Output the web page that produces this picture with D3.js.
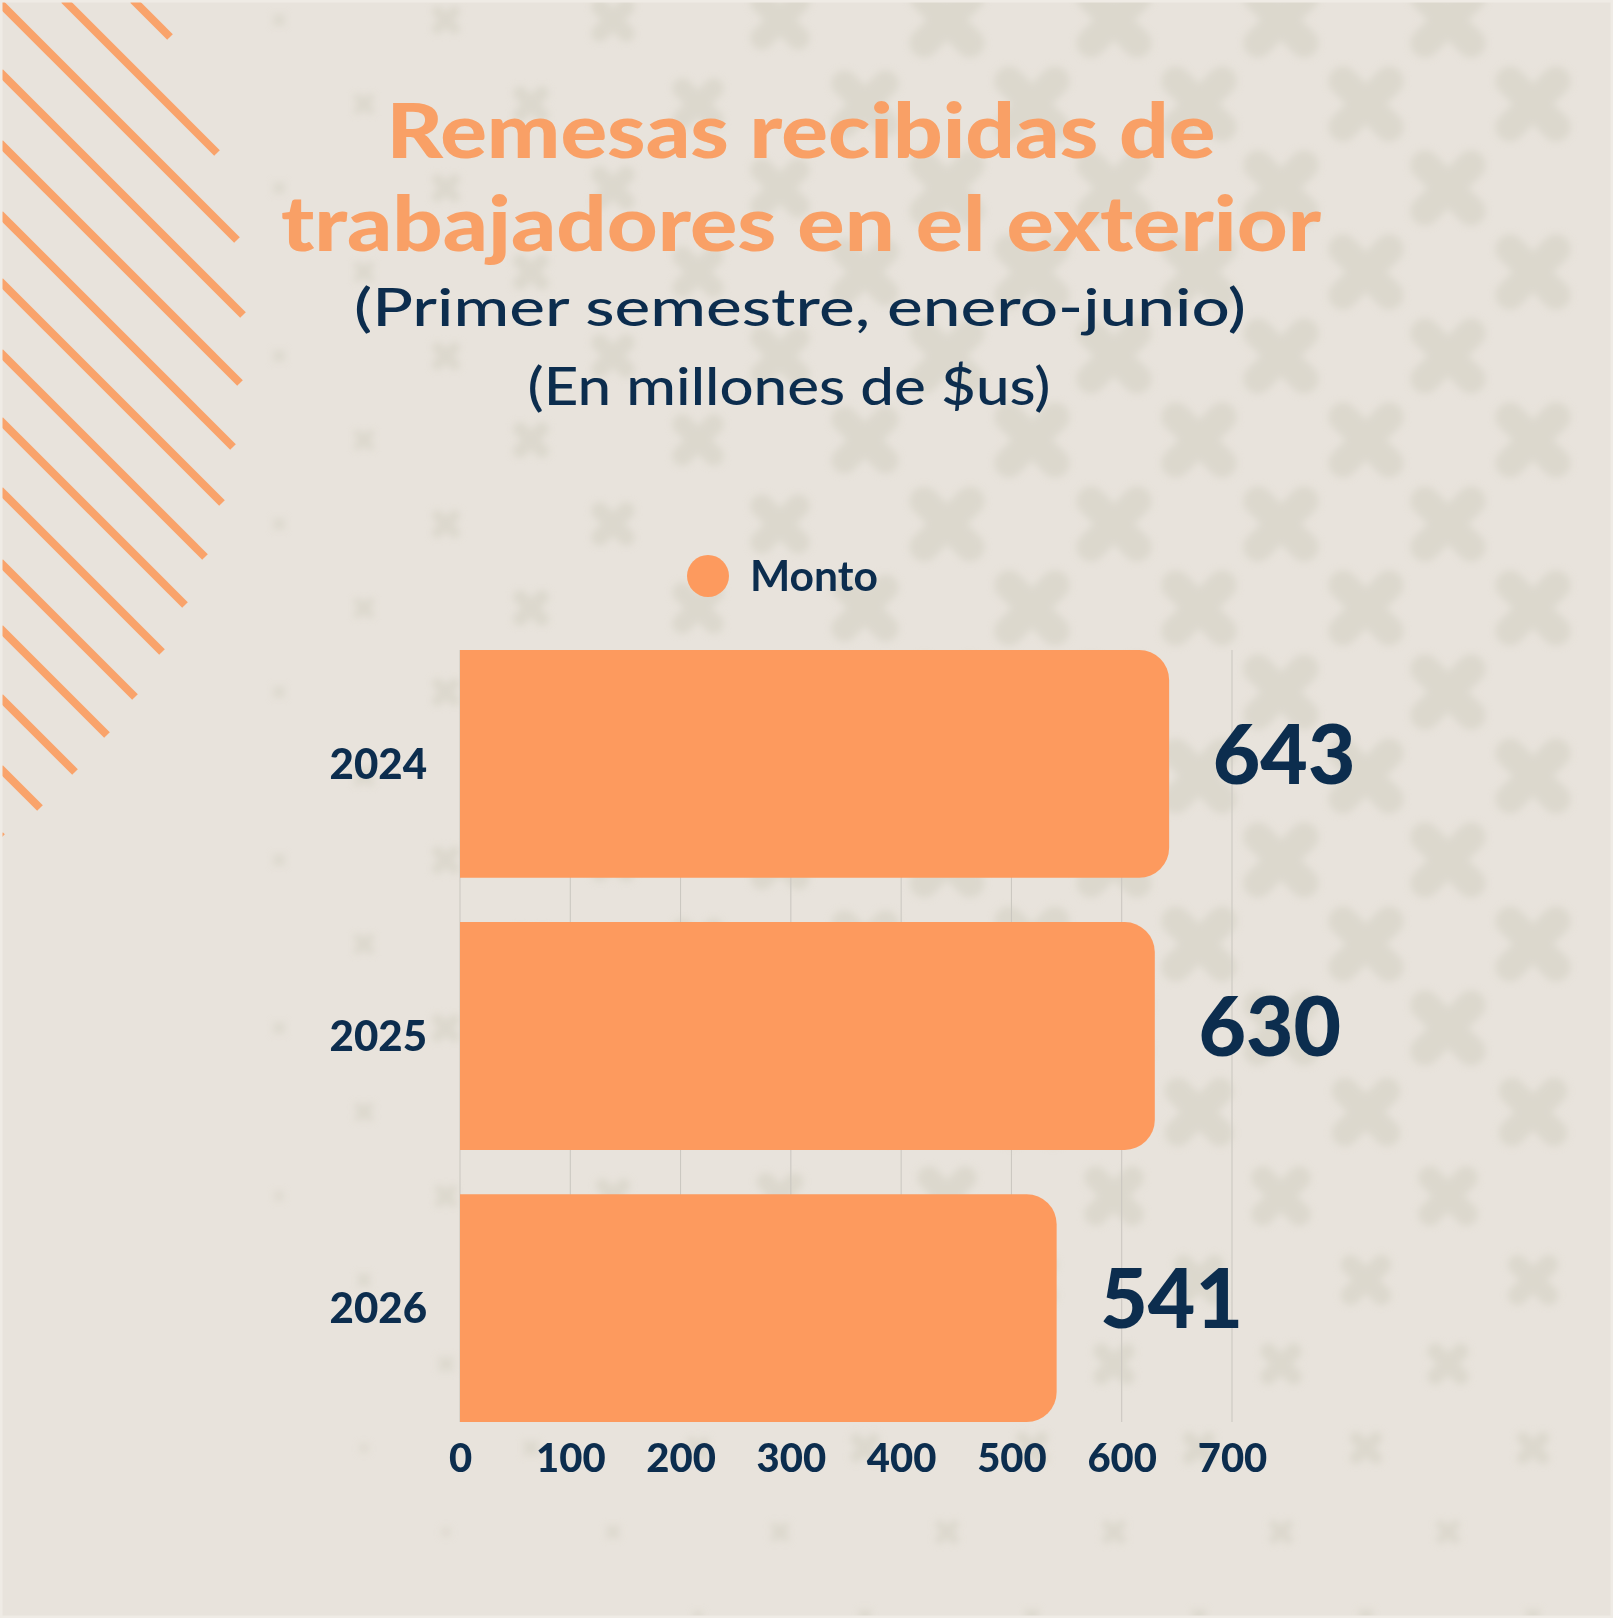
<!DOCTYPE html>
<html>
<head>
<meta charset="utf-8">
<script src="https://cdn.jsdelivr.net/npm/d3@7"></script>
<style>
  body { margin: 0; background: #e8e3dc; }
  svg { display: block; }
</style>
</head>
<body>
<div id="chart"></div>
<script>
// chart data
const years = ["2024", "2025", "2026"];
const montos = [643, 630, 541];
const xTicks = [0, 100, 200, 300, 400, 500, 600, 700];
const seriesName = "Monto";
const titleLines = ["Remesas recibidas de", "trabajadores en el exterior"];
const subtitleLines = ["(Primer semestre, enero-junio)", "(En millones de $us)"];

// decoration: end points of the orange stripes top-left
const stripeEnds = [[170,37],[217,153],[237,240],[243,315],[240,383],[233,447],[222,503],
                    [205,557],[185,605],[162,652],[135,697],[107,735],[75,772],[40,808],[2,837]];

const width = 1613,
      height = 1618;

const orange = "#fd9a5e",
      titleOrange = "#f9a066",
      navy = "#0c2d4e",
      bg = "#e8e3dc";

let svg = d3.select("#chart")
    .append("svg")
    .attr("width", width)
    .attr("height", height);

let defs = svg.append("defs");
defs.append("filter")
    .attr("id", "soft")
    .append("feGaussianBlur")
    .attr("stdDeviation", 3.5);

svg.append("rect")
    .attr("width", width)
    .attr("height", height)
    .attr("fill", bg);

/* background crosses, bigger towards the upper right */
let crosses = [];
for (let r = 0; r < 20; r++) {
    let cy = 20 + 84 * r;
    let startX = r % 2 === 0 ? 1448 : 1533;
    for (let cx = startX; cx > -40; cx -= 167) {
        let fx = Math.max(0, Math.min(1, (cx - 150) / 800));
        let fy = Math.max(0, Math.min(1, (1750 - cy) / 700));
        let s = fx * fy;
        if (s > 0.1) crosses.push({cx, cy, s});
    }
}

let crossG = svg.append("g").attr("filter", "url(#soft)");
crossG.selectAll("g")
    .data(crosses)
    .join("g")
    .attr("transform", d => `translate(${d.cx},${d.cy}) scale(${d.s})`)
    .each(function() {
        let g = d3.select(this);
        g.append("line").attr("x1", -23).attr("y1", -23).attr("x2", 23).attr("y2", 23);
        g.append("line").attr("x1", -23).attr("y1", 23).attr("x2", 23).attr("y2", -23);
    })
    .selectAll("line")
    .attr("stroke", "#dcd8cd")
    .attr("stroke-width", 29)
    .attr("stroke-linecap", "round");

// stripes
svg.append("g")
    .selectAll("line")
    .data(stripeEnds)
    .join("line")
    .attr("x1", d => d[0] - Math.min(d[0], d[1]))
    .attr("y1", d => d[1] - Math.min(d[0], d[1]))
    .attr("x2", d => d[0])
    .attr("y2", d => d[1])
    .attr("stroke", "#f9a36b")
    .attr("stroke-width", 8);

// thin lighter frame
svg.append("rect")
    .attr("x", 1).attr("y", 1)
    .attr("width", width - 2).attr("height", height - 2)
    .attr("fill", "none")
    .attr("stroke", "#efebe5")
    .attr("stroke-width", 3);

/* titles: the original face is wider, so glyphs are stretched to its line widths */
function addLine(txt, cx, baseline, size, weight, color, target) {
    return svg.append("text")
        .attr("x", cx).attr("y", baseline)
        .attr("text-anchor", "middle")
        .attr("font-family", "Lato, sans-serif")
        .attr("font-weight", weight)
        .attr("font-size", size)
        .attr("fill", color)
        .attr("textLength", target)
        .attr("lengthAdjust", "spacingAndGlyphs")
        .text(txt);
}

addLine(titleLines[0], 801, 158, 77, 900, titleOrange, 829);
addLine(titleLines[1], 801, 251, 77, 900, titleOrange, 1040);
addLine(subtitleLines[0], 800, 326, 52, 500, navy, 892);
addLine(subtitleLines[1], 789, 405, 52, 500, navy, 523);

/* legend */
svg.append("circle")
    .attr("cx", 708).attr("cy", 576).attr("r", 21)
    .attr("fill", orange);
svg.append("text")
    .attr("x", 750).attr("y", 591)
    .attr("font-family", "Lato, sans-serif")
    .attr("font-weight", 700)
    .attr("font-size", 42)
    .attr("fill", navy)
    .attr("textLength", 128)
    .attr("lengthAdjust", "spacingAndGlyphs")
    .text(seriesName);

/* scales */
const data = years.map((y, i) => ({year: y, value: montos[i]}));

let x = d3.scaleLinear()
    .domain([0, 700])
    .range([460, 1232]);

let y = d3.scaleBand()
    .domain(years)
    .range([650, 1422])
    .paddingInner(0.163)
    .paddingOuter(0);

// grid lines
svg.append("g")
    .selectAll("line")
    .data(xTicks)
    .join("line")
    .attr("x1", d => x(d)).attr("x2", d => x(d))
    .attr("y1", y.range()[0]).attr("y2", y.range()[1])
    .attr("stroke", "#c9c6bf")
    .attr("stroke-width", 1);

// bars, rounded on the right only
function barPath(x0, y0, w, h, r) {
    return `M${x0},${y0}H${x0 + w - r}A${r},${r} 0 0 1 ${x0 + w},${y0 + r}` +
           `V${y0 + h - r}A${r},${r} 0 0 1 ${x0 + w - r},${y0 + h}H${x0}Z`;
}

let bar = svg.selectAll(".bar")
    .data(data)
    .join("g")
    .attr("class", "bar");

bar.append("path")
    .attr("fill", orange)
    .attr("d", d => barPath(x(0), y(d.year), x(d.value) - x(0), y.bandwidth(), 30));

bar.append("text")
    .text(d => d.value)
    .attr("x", d => x(d.value) + 115)
    .attr("y", d => y(d.year) + y.bandwidth() / 2 + 20)
    .attr("text-anchor", "middle")
    .attr("font-family", "Lato, sans-serif")
    .attr("font-weight", 900)
    .attr("font-size", 82)
    .attr("fill", navy);

/* axes */
let xAxis = svg.append("g")
    .attr("transform", `translate(0,${y.range()[1]})`)
    .call(d3.axisBottom(x).tickValues(xTicks).tickSize(0).tickPadding(22));
xAxis.select(".domain").remove();
xAxis.selectAll("text")
    .attr("font-family", "Lato, sans-serif")
    .attr("font-weight", 900)
    .attr("font-size", 40)
    .attr("fill", navy);

let yAxis = svg.append("g")
    .attr("transform", `translate(${x(0)},0)`)
    .call(d3.axisLeft(y).tickSize(0).tickPadding(33));
yAxis.select(".domain").remove();
yAxis.selectAll("text")
    .attr("dy", "0.36em")
    .attr("font-family", "Lato, sans-serif")
    .attr("font-weight", 900)
    .attr("font-size", 42)
    .attr("fill", navy);
</script>
</body>
</html>
